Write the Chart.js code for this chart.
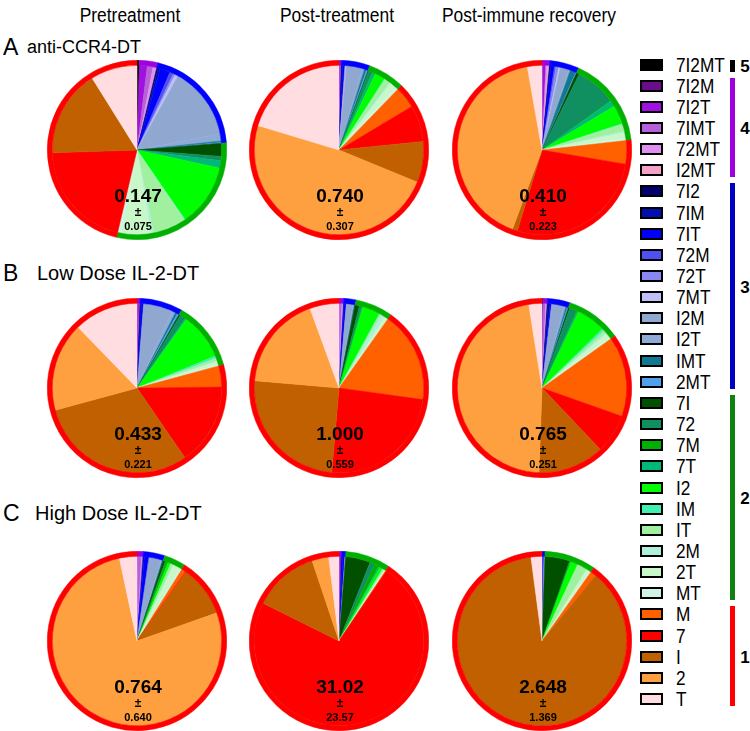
<!DOCTYPE html>
<html><head><meta charset="utf-8">
<script src="https://cdn.jsdelivr.net/npm/chart.js@4/dist/chart.umd.min.js"></script>
<style>
body{margin:0;background:#fff;width:750px;height:731px;position:relative;overflow:hidden;font-family:"Liberation Sans",Arial,Helvetica,sans-serif;color:#000;}
.t{position:absolute;white-space:nowrap;line-height:1;}
canvas{position:absolute;}
.box{position:absolute;box-sizing:border-box;border:2.5px solid #000;}
.br{position:absolute;}
</style></head><body>
<script>
// ---------- categories & legend ----------
const categories = ['7I2MT','7I2M','7I2T','7IMT','72MT','I2MT',
  '7I2','7IM','7IT','72M','72T','7MT','I2M','I2T','IMT','2MT',
  '7I','72','7M','7T','I2','IM','IT','2M','2T','MT',
  'M','7','I','2','T'];
const groupOf = [5, 4,4,4,4,4, 3,3,3,3,3,3,3,3,3,3, 2,2,2,2,2,2,2,2,2,2, 1,1,1,1,1];
const sliceColors = ['#000000','#6a0d8a','#a010e0','#b860d8','#e090f0','#f4a0c8',
  '#000070','#0010b0','#0000ff','#5050f0','#8888f0','#c0c0f8','#90a8d0','#8eaad6','#107890','#50a0f0',
  '#005000','#109060','#00b000','#00b878','#00ff00','#40f0b0','#a0f0a0','#b0f0d8','#c8f8c8','#d0f4e4',
  '#ff6000','#ff0000','#c06000','#ffa040','#ffdde0'];
const groupOrder = [5,4,3,2,1];
const ringColors = ['#000000','#a000e0','#0000ff','#00b000','#ff0000'];
const bracketColors = ['#000000','#a000e0','#0000c0','#108010','#ff0000'];

// ---------- panel titles ----------
const columnTitles = ['Pretreatment','Post-treatment','Post-immune recovery'];
const rowLetters = ['A','B','C'];
const rowTitles = ['anti-CCR4-DT','Low Dose IL-2-DT','High Dose IL-2-DT'];

// ---------- slice values (degrees of pie, in category order) ----------
const antiCCR4_pre  = [1.5, 0.5,5,4,2,0.5, 1,1.5,7,2.5,1.5,2,50,5,1,0.5, 9,3,0,5,43,0.5,23,2,20,2.5, 0,75,60,0,32];
const antiCCR4_post = [0, 0,1,0.5,0,0, 0.5,0.5,1.5,0,0.5,0.5,11,1.5,1.5,1, 0.5,2.5,0.5,2,7,0.5,4,1,4,2, 15,25,28,174,73];
const antiCCR4_rec  = [0, 0.5,2,0.5,1,1, 0.5,0.5,2.5,1,2,1,6,1,4,0.5, 2,28,0.5,4,13,0.5,5,1,4,1.3, 16,97,3.5,149,10];
const lowDose_pre   = [0, 0,1.5,0.5,0,0, 0.5,0.5,1.5,0,0,0,20,2.5,1.5,1.2, 1,4,0,1,32,1.5,2,0.5,2,1, 14.5,56,109,61,44];
const lowDose_post  = [0, 0,0.5,1.5,1,0, 0,0.5,1.5,0,0,0,4.5,1,0.5,0, 3,1.5,0.5,0.5,12,0.5,1.5,2.5,2,0.3, 62.5,87,90,65,20];
const lowDose_rec   = [0.5, 0,0.5,1.5,1,0, 0.5,1.5,1,0,0.5,0,8,1.5,1,0.7, 1,5,0.5,1,20,1.5,2,1,3,1.3, 55,27,45.5,169,9];
const highDose_pre  = [0, 0,0.5,2.5,1,0, 0,1,3,0.5,0,0,8,1,0.5,0, 1.5,0.5,1.5,0,2,0,2,0.5,5,1, 3,0.5,35,277,12];
const highDose_post = [0, 0.5,1,0,0,0, 0,1,1.5,0,0,0,0.5,0,0,0, 17,3.5,3,1,2,0.5,1,0,1,0, 0.5,262,45,11.5,7];
const highDose_rec  = [0, 0,0,0,0,0, 0,0.3,1,0,0,0,0.7,0,0,0, 17,0.5,0.5,0,5,0,7,0,2.5,0.8, 4,0,313,0,7.5];

// ---------- centre statistics ----------
const means = ['0.147','0.740','0.410','0.433','1.000','0.765','0.764','31.02','2.648'];
const sds   = ['0.075','0.307','0.223','0.221','0.559','0.251','0.640','23.57','1.369'];

const panels = [antiCCR4_pre, antiCCR4_post, antiCCR4_rec,
                lowDose_pre, lowDose_post, lowDose_rec,
                highDose_pre, highDose_post, highDose_rec];

// ---------- layout ----------
const FONT = '"Liberation Sans", Arial, Helvetica, sans-serif';
const colX = [137, 339, 542];
const rowY = [150, 388, 641];
const R = 90;

function addText(txt, x, y, size, opts = {}) {
  const d = document.createElement('div');
  d.className = 't';
  d.textContent = txt;
  d.style.left = x + 'px';
  d.style.top = y + 'px';
  d.style.fontSize = size + 'px';
  if (opts.bold) d.style.fontWeight = 'bold';
  const sx = opts.sx || 1;
  if (opts.align === 'left') {
    d.style.transformOrigin = 'left center';
    d.style.transform = `translateY(-50%) scaleX(${sx})`;
  } else {
    d.style.transform = `translate(-50%,-50%) scaleX(${sx})`;
  }
  document.body.appendChild(d);
}

// column titles
const colTitleX = [130, 337, 529];
columnTitles.forEach((t, i) => addText(t, colTitleX[i], 15, 20, {sx: 0.87}));
// row letters/titles
const rowLabelY = [47, 273, 513];
const rowTitleX = [27, 37, 35];
const rowTitleSize = [18, 20, 20];
rowLetters.forEach((l, i) => {
  addText(l, 3, rowLabelY[i], 23, {align: 'left'});
  addText(rowTitles[i], rowTitleX[i], rowLabelY[i], rowTitleSize[i], {align: 'left'});
});

// legend
const rowC = i => 64.5 + i * 21.15;
categories.forEach((c, i) => {
  const b = document.createElement('div');
  b.className = 'box';
  b.style.left = '640px'; b.style.width = '23px';
  b.style.top = (rowC(i) - 6) + 'px'; b.style.height = '12px';
  b.style.background = sliceColors[i];
  document.body.appendChild(b);
  addText(c, 676, rowC(i), 20, {align: 'left', sx: 0.86});
});
groupOrder.forEach((g, gi) => {
  const idx = groupOf.map((v, i) => v === g ? i : -1).filter(i => i >= 0);
  const first = idx[0], last = idx[idx.length - 1];
  let top = rowC(first) - 8, bot = rowC(last) + 7;
  if (g === 5) { top = rowC(first) - 4.5; bot = rowC(first) + 7; }
  const d = document.createElement('div');
  d.className = 'br';
  d.style.left = '729.5px'; d.style.width = '5.5px';
  d.style.top = top + 'px'; d.style.height = (bot - top) + 'px';
  d.style.background = bracketColors[gi];
  document.body.appendChild(d);
  addText(String(g), 745, (top + bot) / 2 + 0.5, 17, {bold: true});
});

// centre label plugin
const centreLabel = {
  id: 'centreLabel',
  afterDraw(chart, args, opts) {
    const {left, right, top, bottom} = chart.chartArea;
    const cx = (left + right) / 2, cy = (top + bottom) / 2;
    const ctx = chart.ctx;
    ctx.save();
    ctx.fillStyle = '#000';
    ctx.textAlign = 'center';
    ctx.textBaseline = 'middle';
    ctx.font = 'bold 19px ' + FONT;
    ctx.fillText(opts.mean, cx + 1, cy + 47);
    ctx.font = 'bold 12px ' + FONT;
    ctx.fillText('\u00b1', cx + 1, cy + 63);
    ctx.font = 'bold 11px ' + FONT;
    ctx.fillText(opts.sd, cx + 1, cy + 77);
    ctx.restore();
  }
};

panels.forEach((vals, p) => {
  const cx = colX[p % 3], cy = rowY[Math.floor(p / 3)];
  const cv = document.createElement('canvas');
  cv.width = 2 * R; cv.height = 2 * R;
  cv.style.left = (cx - R) + 'px'; cv.style.top = (cy - R) + 'px';
  cv.style.width = 2 * R + 'px'; cv.style.height = 2 * R + 'px';
  document.body.appendChild(cv);
  const ringData = groupOrder.map(g => vals.reduce((s, v, i) => s + (groupOf[i] === g ? v : 0), 0));
  new Chart(cv, {
    type: 'pie',
    data: {
      labels: categories,
      datasets: [
        {data: ringData, backgroundColor: ringColors, borderColor: ringColors, borderWidth: 0.5, weight: 5},
        {data: vals, backgroundColor: sliceColors, borderColor: sliceColors, borderWidth: 0.5, weight: 84}
      ]
    },
    options: {
      responsive: false, animation: false, devicePixelRatio: 1, events: [],
      layout: {padding: 0},
      plugins: {legend: {display: false}, tooltip: {enabled: false},
        centreLabel: {mean: means[p], sd: sds[p]}}
    },
    plugins: [centreLabel]
  });
});
</script>
</body></html>
